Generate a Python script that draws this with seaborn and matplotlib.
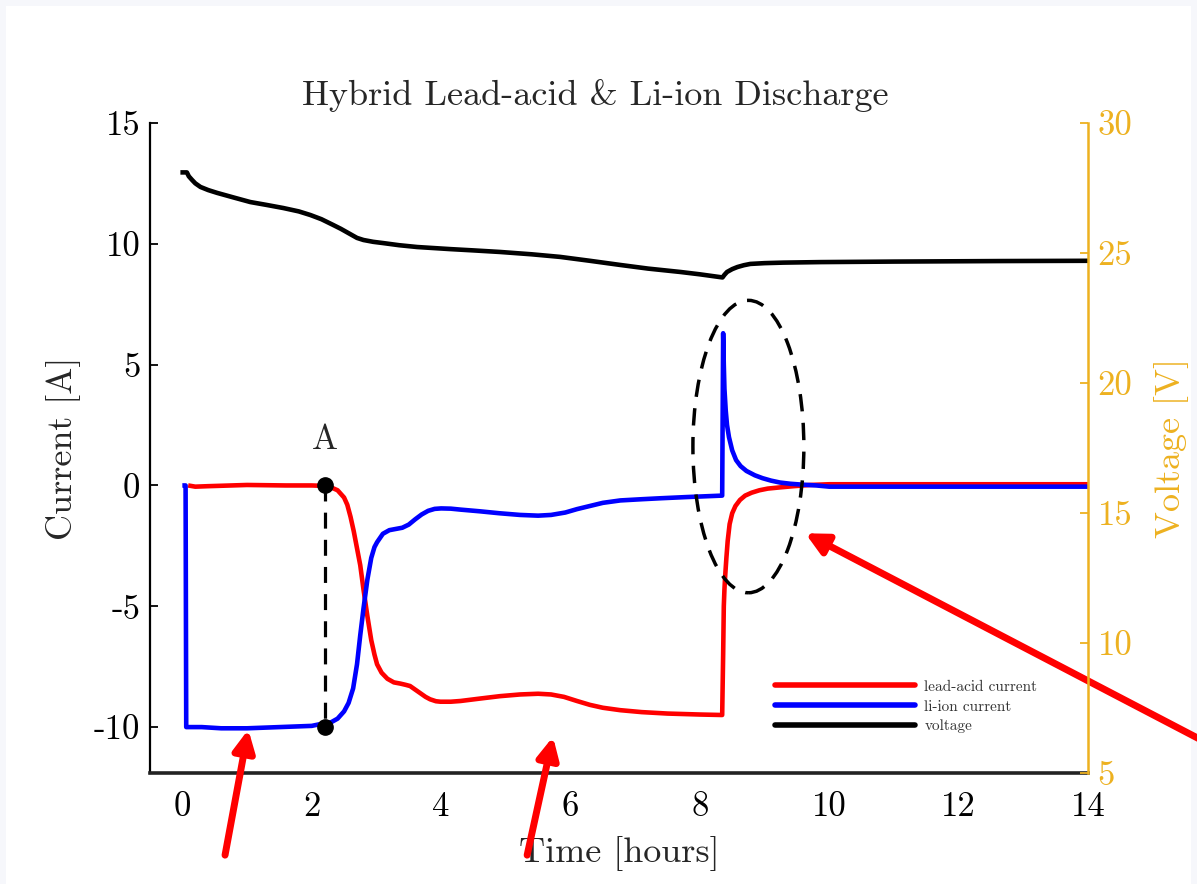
import matplotlib
matplotlib.use("Agg")
import matplotlib.pyplot as plt
import seaborn as sns
import numpy as np
import pandas as pd
from matplotlib.patches import Ellipse, Rectangle
from matplotlib.lines import Line2D

# ---------------- data ----------------
t_lead = [0.09, 0.2, 0.4, 1.0, 1.6, 2.0, 2.21, 2.3, 2.4, 2.5, 2.55, 2.6, 2.65, 2.7, 2.75, 2.8,
          2.86, 2.92, 2.97, 3.01, 3.08, 3.17, 3.27, 3.37, 3.45, 3.52, 3.6, 3.68, 3.76, 3.83,
          3.92, 3.99, 4.15, 4.3, 4.6, 4.91, 5.22, 5.5, 5.7, 5.9, 6.1, 6.3, 6.5, 6.77, 7.1,
          7.5, 8.0, 8.345, 8.36, 8.37, 8.38, 8.39, 8.41, 8.43, 8.46, 8.5, 8.55, 8.62, 8.7,
          8.8, 8.92, 9.05, 9.24, 9.45, 9.7, 10.0, 14.0]
i_lead = [0.0, -0.05, -0.03, 0.02, 0.0, 0.0, -0.02, -0.08, -0.2, -0.5, -0.8, -1.3, -1.9, -2.6,
          -3.3, -4.3, -5.4, -6.4, -7.0, -7.4, -7.75, -8.0, -8.15, -8.2, -8.25, -8.3, -8.45,
          -8.6, -8.75, -8.85, -8.93, -8.95, -8.95, -8.92, -8.82, -8.72, -8.65, -8.62, -8.65,
          -8.75, -8.92, -9.08, -9.2, -9.3, -9.38, -9.44, -9.48, -9.5, -7.0, -5.0, -4.3, -3.8,
          -3.0, -2.3, -1.6, -1.15, -0.85, -0.6, -0.42, -0.3, -0.2, -0.13, -0.08, -0.03, 0.02,
          0.05, 0.05]

t_li = [0.0, 0.05, 0.06, 0.3, 0.6, 1.0, 1.5, 2.0, 2.18, 2.3, 2.4, 2.5, 2.57, 2.64, 2.7, 2.75,
        2.8, 2.86, 2.92, 2.97, 3.01, 3.1, 3.2, 3.3, 3.4, 3.5, 3.6, 3.7, 3.8, 3.9, 4.0, 4.15,
        4.3, 4.6, 4.9, 5.22, 5.5, 5.7, 5.92, 6.1, 6.3, 6.5, 6.77, 7.1, 7.39, 7.8, 8.345, 8.36,
        8.37, 8.38, 8.40, 8.42, 8.45, 8.5, 8.56, 8.63, 8.72, 8.85, 8.97, 9.1, 9.24, 9.4,
        9.55, 9.8, 10.0, 14.0]
i_li = [0.0, 0.0, -10.0, -10.0, -10.05, -10.05, -10.0, -9.95, -9.85, -9.8, -9.65, -9.35, -9.0,
        -8.4, -7.4, -6.2, -5.1, -3.9, -3.0, -2.55, -2.35, -2.0, -1.85, -1.8, -1.75, -1.62,
        -1.4, -1.2, -1.05, -0.97, -0.95, -0.96, -1.0, -1.07, -1.15, -1.22, -1.25, -1.22,
        -1.12, -0.98, -0.85, -0.72, -0.62, -0.57, -0.53, -0.48, -0.42, 6.3, 5.0, 4.0, 3.1,
        2.5, 2.0, 1.45, 1.05, 0.8, 0.6, 0.42, 0.3, 0.2, 0.12, 0.07, 0.04, 0.0, -0.05, -0.05]

t_volt = [-0.03, 0.07, 0.1, 0.15, 0.2, 0.28, 0.4, 0.54, 0.8, 1.05, 1.3, 1.56, 1.8, 1.98, 2.15,
          2.33, 2.45, 2.6, 2.7, 2.8, 2.95, 3.11, 3.35, 3.63, 4.14, 4.5, 4.91, 5.4, 5.84, 6.3,
          6.77, 7.2, 7.7, 8.0, 8.35, 8.38, 8.42, 8.5, 8.58, 8.68, 8.78, 9.0, 9.29, 9.86, 11.0,
          12.64, 14.0]
v_volt = [28.1, 28.1, 27.95, 27.81, 27.68, 27.54, 27.42, 27.31, 27.13, 26.96, 26.85, 26.73,
          26.6, 26.46, 26.3, 26.08, 25.93, 25.72, 25.58, 25.5, 25.43, 25.38, 25.3, 25.23,
          25.15, 25.1, 25.04, 24.95, 24.85, 24.7, 24.54, 24.4, 24.27, 24.18, 24.06, 24.16,
          24.27, 24.38, 24.46, 24.53, 24.58, 24.61, 24.63, 24.65, 24.67, 24.69, 24.7]

x_ticks = [0, 2, 4, 6, 8, 10, 12, 14]
x_ticklabels = ["0", "2", "4", "6", "8", "10", "12", "14"]
y_ticks = [-10, -5, 0, 5, 10, 15]
y_ticklabels = ["-10", "-5", "0", "5", "10", "15"]
v_ticks = [5, 10, 15, 20, 25, 30]
v_ticklabels = ["5", "10", "15", "20", "25", "30"]

point_a_t = 2.2
point_a_i = [0.0, -10.0]

legend_labels = ["lead-acid current", "li-ion current", "voltage"]

# ---------------- style ----------------
sns.set_style("white")
plt.rcParams["font.family"] = ["cmr10", "DejaVu Serif"]
plt.rcParams["axes.unicode_minus"] = False
plt.rcParams["mathtext.fontset"] = "cm"

RED = "#FF0000"
BLUE = "#0000FF"
ORANGE = "#EDB120"

fig = plt.figure(figsize=(11.97, 8.84), dpi=100)
fig.patch.set_facecolor("#f6f7fb")
fig.add_artist(Rectangle((6 / 1197, 0), 1 - 12 / 1197, 1 - 6 / 884,
                         transform=fig.transFigure, facecolor="white", edgecolor="none", zorder=-10))

ax = fig.add_axes([150 / 1197, 1 - 773 / 884, 938 / 1197, 650 / 884])
ax.set_facecolor("none")
ax2 = ax.twinx()

df_lead = pd.DataFrame({"t": t_lead, "i": i_lead})
df_li = pd.DataFrame({"t": t_li, "i": i_li})
df_v = pd.DataFrame({"t": t_volt, "v": v_volt})

sns.lineplot(data=df_v, x="t", y="v", ax=ax2, color="black", linewidth=3.3,
             estimator=None, sort=False, legend=False)
sns.lineplot(data=df_lead, x="t", y="i", ax=ax, color=RED, linewidth=3.3,
             estimator=None, sort=False, legend=False)
sns.lineplot(data=df_li, x="t", y="i", ax=ax, color=BLUE, linewidth=3.3,
             estimator=None, sort=False, legend=False)
for a in (ax, ax2):
    for ln in a.get_lines():
        ln.set_solid_joinstyle("round")
        ln.set_solid_capstyle("butt")

ax.set_xlim(-0.5, 14)
ax.set_ylim(-11.9, 15)
ax2.set_ylim(5, 30)

# point A
ax.plot([point_a_t, point_a_t], point_a_i, color="black", lw=2.3, ls=(0, (5, 3.5)), zorder=5)
ax.plot([point_a_t] * 2, point_a_i, "o", color="black", ms=11, zorder=6)
ax.text(point_a_t, 1.2, "A", fontsize=25, ha="center", va="bottom")

# dashed ellipse
ax.add_patch(Ellipse((8.75, 1.61), 1.715, 12.1, fill=False, edgecolor="black",
                     lw=2.5, ls=(0, (5, 3.3)), zorder=7))

# spines / ticks
ax.spines["top"].set_visible(False)
ax2.spines["top"].set_visible(False)
ax.spines["right"].set_visible(False)
ax2.spines["left"].set_visible(False)
ax2.spines["bottom"].set_visible(False)
ax.spines["left"].set_color("black")
ax.spines["left"].set_linewidth(1.6)
ax.spines["bottom"].set_color("#222222")
ax.spines["bottom"].set_linewidth(2.6)
ax2.spines["right"].set_color(ORANGE)
ax2.spines["right"].set_linewidth(1.8)

ax.set_xticks(x_ticks)
ax.set_xticklabels(x_ticklabels)
ax.set_yticks(y_ticks)
ax.set_yticklabels(y_ticklabels)
ax2.set_yticks(v_ticks)
ax2.set_yticklabels(v_ticklabels)

ax.tick_params(axis="x", direction="in", length=7, width=1.3, labelsize=25, pad=13, colors="black")
ax.tick_params(axis="y", direction="in", length=6, width=1.3, labelsize=25, pad=7, colors="black")
ax2.tick_params(axis="y", direction="in", length=6, width=1.3, labelsize=25, pad=7,
                colors=ORANGE, labelcolor=ORANGE)

ax.set_xlabel("Time [hours]", fontsize=26)
ax.set_ylabel("Current [A]", fontsize=26)
ax2.set_ylabel("Voltage [V]", fontsize=26, color=ORANGE)
ax.xaxis.set_label_coords(0.5, -0.097)
ax.yaxis.set_label_coords(-0.074, 0.5)
ax2.yaxis.set_label_coords(1.07, 0.5)

fig.text(595 / 1197, 1 - 96 / 884, "Hybrid Lead-acid & Li-ion Discharge", fontsize=26,
         ha="center", va="center")

# legend
handles = [Line2D([], [], color=RED, lw=4), Line2D([], [], color=BLUE, lw=4),
           Line2D([], [], color="black", lw=4)]
leg = ax.legend(handles, legend_labels, loc="upper left", bbox_to_anchor=(0.666, 0.143),
                frameon=False, fontsize=11, handlelength=9.2, handletextpad=0.6,
                labelspacing=0.4, borderpad=0, borderaxespad=0)
for txt in leg.get_texts():
    txt.set_color("#333333")

# red arrows
arrow_kw = dict(arrowstyle="-|>", color=RED, lw=5, mutation_scale=32, shrinkA=0, shrinkB=0)
ax.annotate("", xy=(1.02, -10.1), xytext=(0.66, -15.3), arrowprops=arrow_kw,
            annotation_clip=False, zorder=10)
ax.annotate("", xy=(5.73, -10.4), xytext=(5.33, -15.3), arrowprops=arrow_kw,
            annotation_clip=False, zorder=10)
ax.annotate("", xy=(9.63, -1.98), xytext=(16.3, -11.3), arrowprops=arrow_kw,
            annotation_clip=False, zorder=10)

fig.savefig("out.png", dpi=100)
